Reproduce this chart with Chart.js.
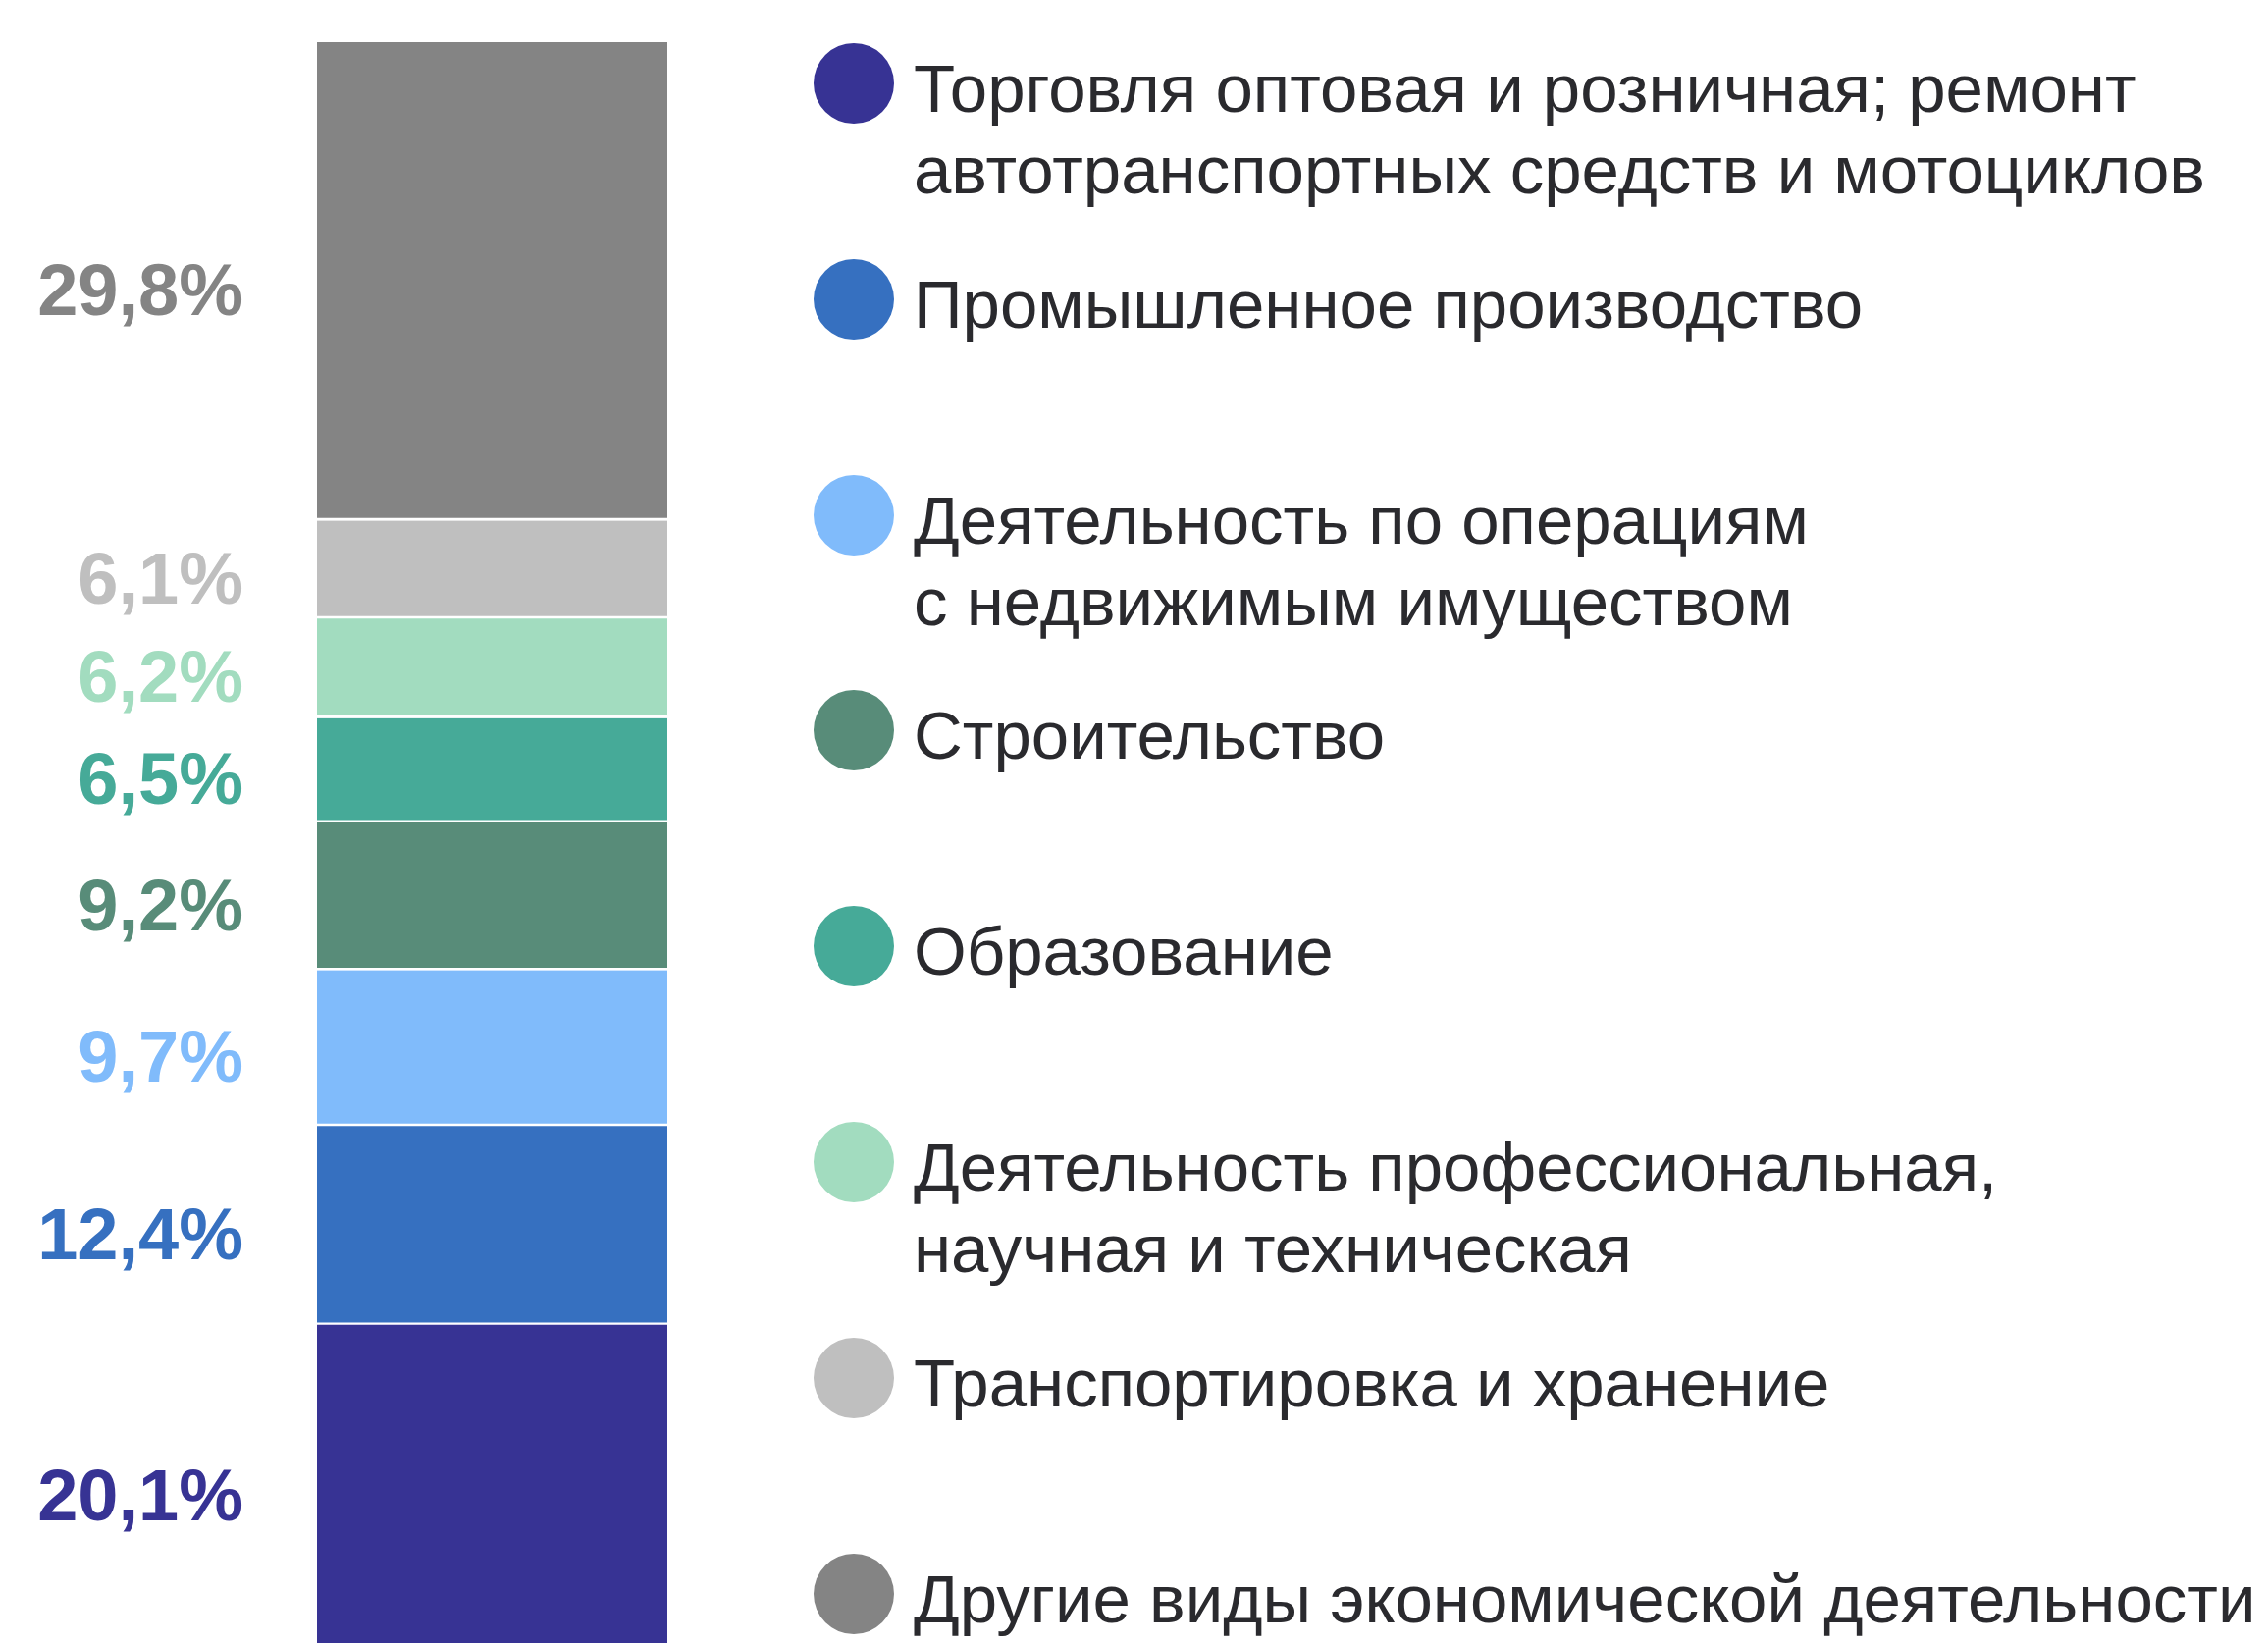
<!DOCTYPE html>
<html lang="ru">
<head>
<meta charset="utf-8">
<script src="https://cdn.jsdelivr.net/npm/chart.js@4"></script>
<style>
  html, body { margin: 0; padding: 0; background: #fff; overflow: hidden; }
  #wrap { position: relative; width: 2311px; height: 1674px; overflow: hidden; }
  #chart { position: absolute; left: 0; top: 0; }
  #legend { position: absolute; left: 829px; top: 44px; font-family: "Liberation Sans", Arial, sans-serif; }
  .item { position: relative; height: 219.8px; }
  .dot { position: absolute; left: 0; top: 0; width: 82px; height: 82px; border-radius: 50%; }
  .txt { position: absolute; left: 102px; top: 5px; font-size: 69px; line-height: 83px; color: #2a2a2e; white-space: nowrap; }
</style>
</head>
<body>
<div id="wrap">
  <canvas id="chart"></canvas>
  <div id="legend"></div>
</div>
<script>
// отрасли снизу вверх по столбцу
const categories = [
  ['Торговля оптовая и розничная; ремонт', 'автотранспортных средств и мотоциклов'],
  ['Промышленное производство'],
  ['Деятельность по операциям', 'с недвижимым имуществом'],
  ['Строительство'],
  ['Образование'],
  ['Деятельность профессиональная,', 'научная и техническая'],
  ['Транспортировка и хранение'],
  ['Другие виды экономической деятельности']
];
const shares = [20.1, 12.4, 9.7, 9.2, 6.5, 6.2, 6.1, 29.8];
const colors = ['#373394', '#3670c0', '#80bbfb', '#588c79', '#46aa98', '#a2dcbf', '#bfbfbf', '#848484'];

const fmt = v => v.toFixed(1).replace('.', ',') + '%';

// подписи процентов слева от столбца
const sideLabels = {
  id: 'sideLabels',
  afterDatasetsDraw(chart) {
    const ctx = chart.ctx;
    ctx.save();
    ctx.font = 'bold 74px "Liberation Sans", Arial, sans-serif';
    ctx.textAlign = 'right';
    ctx.textBaseline = 'middle';
    chart.data.datasets.forEach((ds, i) => {
      const bar = chart.getDatasetMeta(i).data[0];
      const p = bar.getProps(['x', 'y', 'base', 'width'], true);
      ctx.fillStyle = ds.backgroundColor;
      ctx.fillText(fmt(ds.data[0]), p.x - p.width / 2 - 75, (p.y + p.base) / 2 + 14);
    });
    ctx.restore();
  }
};

const canvas = document.getElementById('chart');
canvas.width = 2311;
canvas.height = 1690;
canvas.style.width = '2311px';
canvas.style.height = '1690px';

new Chart(canvas, {
  type: 'bar',
  data: {
    labels: [''],
    datasets: categories.map((c, i) => ({
      label: c.join(' '),
      data: [shares[i]],
      backgroundColor: colors[i],
      borderColor: '#ffffff',
      borderWidth: { top: 0, right: 0, left: 0, bottom: i === 0 ? 0 : 3 },
      borderSkipped: false
    }))
  },
  options: {
    responsive: false,
    animation: false,
    layout: { padding: { left: 323, right: 2311 - 680, top: 43, bottom: 11 } },
    datasets: { bar: { categoryPercentage: 1, barPercentage: 1 } },
    scales: {
      x: { stacked: true, display: false },
      y: { stacked: true, display: false, min: 0, max: 100 }
    },
    plugins: { legend: { display: false }, tooltip: { enabled: false } }
  },
  plugins: [sideLabels]
});

// легенда справа
const legend = document.getElementById('legend');
categories.forEach((lines, i) => {
  const item = document.createElement('div');
  item.className = 'item';
  item.innerHTML = `<div class="dot" style="background:${colors[i]}"></div><div class="txt">${lines.join('<br>')}</div>`;
  legend.appendChild(item);
});
</script>
</body>
</html>
